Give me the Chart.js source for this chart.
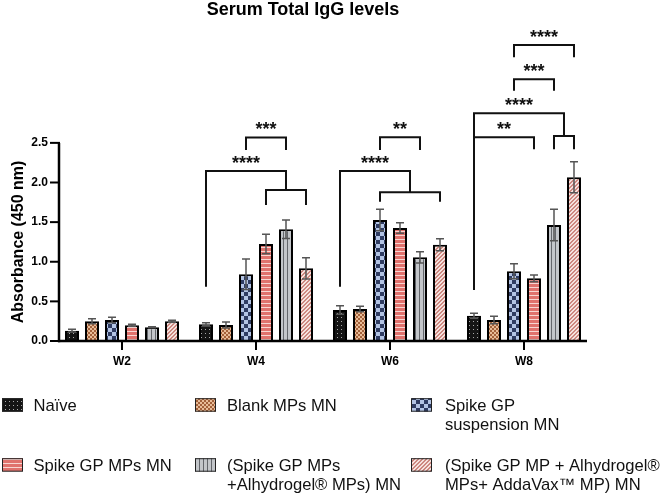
<!DOCTYPE html>
<html><head><meta charset="utf-8">
<script src="https://cdn.jsdelivr.net/npm/chart.js@4.4.0/dist/chart.umd.min.js"></script>
<style>html,body{margin:0;padding:0;background:#fff}#wrap{width:661px;height:498px;position:relative}</style>
</head><body><div id="wrap"><canvas id="c" width="661" height="498"></canvas></div>
<script>
const categories = ['W2', 'W4', 'W6', 'W8'];
const chartTitle = 'Serum Total IgG levels';
const yTitle = 'Absorbance (450 nm)';
const yTicks = [0, 0.5, 1.0, 1.5, 2.0, 2.5];
const seriesNames = ['Naïve', 'Blank MPs MN', 'Spike GP suspension MN', 'Spike GP MPs MN',
  '(Spike GP MPs +Alhydrogel® MPs) MN', '(Spike GP MP + Alhydrogel® MPs+ AddaVax™ MP) MN'];
const legendLines = [['Naïve'], ['Blank MPs MN'], ['Spike GP', 'suspension MN'],
  ['Spike GP MPs MN'], ['(Spike GP MPs', '+Alhydrogel® MPs) MN'], ['(Spike GP MP + Alhydrogel®', 'MPs+ AddaVax™ MP) MN']];

// means
const naive = [0.13, 0.211, 0.391, 0.319];
const blank = [0.249, 0.202, 0.404, 0.265];
const spikeSusp = [0.265, 0.842, 1.527, 0.88];
const spikeMPs = [0.198, 1.224, 1.426, 0.791];
const spikeAlhy = [0.173, 1.41, 1.056, 1.464];
const spikeAdda = [0.249, 0.917, 1.215, 2.066];
// error (SD/SEM)
const naiveErr = [0.018, 0.02, 0.054, 0.031];
const blankErr = [0.032, 0.038, 0.034, 0.047];
const spikeSuspErr = [0.034, 0.193, 0.135, 0.095];
const spikeMPsErr = [0.013, 0.122, 0.067, 0.042];
const spikeAlhyErr = [0.007, 0.117, 0.071, 0.198];
const spikeAddaErr = [0.012, 0.134, 0.076, 0.196];

// significance brackets: cat index, bar index range, top level, leg ends (data units)
const brackets = [
  {cat: 1, left: 2, right: 4, top: 2.568, leftEnd: 2.41, rightEnd: 2.41, label: '***'},
  {cat: 1, left: 0, right: 4, top: 2.145, leftEnd: 0.685, rightEnd: 1.905, label: '****'},
  {cat: 1, left: 3, right: 5, top: 1.905, leftEnd: 1.716, rightEnd: 1.716, label: ''},
  {cat: 2, left: 2, right: 4, top: 2.57, leftEnd: 2.41, rightEnd: 2.41, label: '**'},
  {cat: 2, left: 0, right: 3.5, top: 2.145, leftEnd: 0.685, rightEnd: 1.876, label: '****'},
  {cat: 2, left: 2, right: 5, top: 1.876, leftEnd: 1.758, rightEnd: 1.758, label: ''},
  {cat: 3, left: 2, right: 5, top: 3.735, leftEnd: 3.58, rightEnd: 3.58, label: '****'},
  {cat: 3, left: 2, right: 4, top: 3.302, leftEnd: 3.158, rightEnd: 3.158, label: '***'},
  {cat: 3, left: 0, right: 4.5, top: 2.873, leftEnd: 0.644, rightEnd: 2.587, label: '****'},
  {cat: 3, left: 4, right: 5, top: 2.587, leftEnd: 2.419, rightEnd: 2.419, label: ''},
  {cat: 3, left: 0, right: 3, top: 2.57, leftEnd: 0.644, rightEnd: 2.419, label: '**'}
];

const FONT = "'Liberation Sans', Arial, Helvetica, sans-serif";
Chart.defaults.font.family = FONT;

const canvas = document.getElementById('c');
const mainCtx = canvas.getContext('2d');
function makePattern(w, h, fn) {
  const c = document.createElement('canvas'); c.width = w; c.height = h;
  const g = c.getContext('2d'); fn(g, w, h);
  return mainCtx.createPattern(c, 'repeat');
}
const patterns = [
  makePattern(4, 4, (g) => { g.fillStyle = '#151515'; g.fillRect(0, 0, 4, 4); g.fillStyle = '#a8a8a8'; g.fillRect(1, 1, 1, 1); }),
  makePattern(4, 4, (g) => { g.fillStyle = '#e8bc98'; g.fillRect(0, 0, 4, 4); g.fillStyle = '#a3613a'; g.fillRect(0, 0, 2, 2); g.fillRect(2, 2, 2, 2); }),
  makePattern(8, 8, (g) => { g.fillStyle = '#b3c4e4'; g.fillRect(0, 0, 8, 8); g.fillStyle = '#2f3c62'; g.fillRect(0, 0, 4, 4); g.fillRect(4, 4, 4, 4); }),
  makePattern(1, 4, (g) => { g.fillStyle = '#e0726d'; g.fillRect(0, 0, 1, 4); g.fillStyle = '#f8d6d2'; g.fillRect(0, 3, 1, 1); }),
  makePattern(4, 1, (g) => { g.fillStyle = '#c3c6ca'; g.fillRect(0, 0, 4, 1); g.fillStyle = '#63666b'; g.fillRect(3, 0, 1, 1); }),
  makePattern(4, 4, (g) => { g.fillStyle = '#f6e2de'; g.fillRect(0, 0, 4, 4); g.fillStyle = '#cd8880';
    for (let x = 0; x < 4; x++) for (let y = 0; y < 4; y++) if ((x + y) % 4 < 2) g.fillRect(x, y, 1, 1); })
];

const seriesValues = [naive, blank, spikeSusp, spikeMPs, spikeAlhy, spikeAdda];
const seriesErrors = [naiveErr, blankErr, spikeSuspErr, spikeMPsErr, spikeAlhyErr, spikeAddaErr];

const decorPlugin = {
  id: 'decor',
  afterDatasetsDraw(chart) {
    const ctx = chart.ctx, y = chart.scales.y;
    ctx.save();
    ctx.strokeStyle = '#555'; ctx.lineWidth = 1.5;
    seriesValues.forEach((vals, i) => {
      const meta = chart.getDatasetMeta(i);
      meta.data.forEach((bar, j) => {
        const v = vals[j], e = seriesErrors[i][j], x = bar.x;
        const yt = y.getPixelForValue(v + e), yb = y.getPixelForValue(Math.max(0, v - e)), yv = y.getPixelForValue(v);
        ctx.beginPath();
        ctx.moveTo(x, yv); ctx.lineTo(x, yt);
        ctx.moveTo(x - 4, yt); ctx.lineTo(x + 4, yt);
        ctx.moveTo(x, yv); ctx.lineTo(x, yb);
        ctx.moveTo(x - 4, yb); ctx.lineTo(x + 4, yb);
        ctx.stroke();
      });
    });
    ctx.restore();
  },
  afterDraw(chart) {
    const ctx = chart.ctx, y = chart.scales.y, xs = chart.scales.x, ca = chart.chartArea;
    ctx.save();
    // axes
    const ax = ca.left + 4, y0 = y.getPixelForValue(0), yTop = y.getPixelForValue(yTicks[yTicks.length - 1]);
    ctx.strokeStyle = '#000'; ctx.lineWidth = 2.5; ctx.lineCap = 'butt';
    ctx.beginPath(); ctx.moveTo(ax, y0 + 1.2); ctx.lineTo(ax, yTop); ctx.stroke();
    ctx.lineWidth = 2;
    yTicks.forEach(v => { const p = y.getPixelForValue(v); ctx.beginPath(); ctx.moveTo(ax - 9, p); ctx.lineTo(ax + 1, p); ctx.stroke(); });
    ctx.lineWidth = 2.5;
    ctx.beginPath(); ctx.moveTo(ax - 1, y0); ctx.lineTo(ca.right - 4, y0); ctx.stroke();
    ctx.lineWidth = 2;
    categories.forEach((c, i) => { const p = xs.getPixelForValue(i); ctx.beginPath(); ctx.moveTo(p, y0); ctx.lineTo(p, y0 + 9); ctx.stroke(); });

    // brackets
    const barX = (cat, idx) => {
      const lo = Math.floor(idx), hi = Math.ceil(idx);
      const a = chart.getDatasetMeta(lo).data[cat].x, b = chart.getDatasetMeta(hi).data[cat].x;
      return a + (b - a) * (idx - lo);
    };
    ctx.lineWidth = 2; ctx.lineJoin = 'miter'; ctx.strokeStyle = '#111';
    brackets.forEach(b => {
      const xl = barX(b.cat, b.left), xr = barX(b.cat, b.right), yt = y.getPixelForValue(b.top);
      ctx.beginPath();
      ctx.moveTo(xl, y.getPixelForValue(b.leftEnd)); ctx.lineTo(xl, yt); ctx.lineTo(xr, yt); ctx.lineTo(xr, y.getPixelForValue(b.rightEnd));
      ctx.stroke();
      if (b.label) {
        ctx.fillStyle = '#111'; ctx.font = 'bold 18px ' + FONT; ctx.textAlign = 'center'; ctx.textBaseline = 'alphabetic';
        ctx.fillText(b.label, (xl + xr) / 2, yt - 2);
      }
    });

    // title
    ctx.fillStyle = '#000'; ctx.font = 'bold 18px ' + FONT; ctx.textAlign = 'center'; ctx.textBaseline = 'alphabetic';
    ctx.fillText(chartTitle, 303, 15);
    // y title
    ctx.save();
    ctx.translate(19, (y0 + yTop) / 2); ctx.rotate(-Math.PI / 2);
    ctx.font = 'bold 16px ' + FONT; ctx.textAlign = 'center'; ctx.textBaseline = 'middle';
    ctx.fillText(yTitle, 0, 0);
    ctx.restore();

    // legend
    const colX = [2, 195, 411], textX = [33.5, 227, 445], rowY = [410.7, 470.7];
    ctx.font = '16.6px ' + FONT; ctx.textAlign = 'left'; ctx.textBaseline = 'alphabetic';
    legendLines.forEach((lines, i) => {
      const col = i % 3, row = Math.floor(i / 3);
      const bx = colX[col], by = rowY[row] - 12.5;
      ctx.fillStyle = patterns[i]; ctx.fillRect(bx, by, 21, 13.5);
      ctx.strokeStyle = '#222'; ctx.lineWidth = 1; ctx.strokeRect(bx + 0.5, by + 0.5, 20, 12.5);
      ctx.fillStyle = '#111';
      lines.forEach((t, k) => ctx.fillText(t, textX[col], rowY[row] + k * 19.5));
    });
    ctx.restore();
  }
};

new Chart(canvas, {
  type: 'bar',
  data: {
    labels: categories,
    datasets: seriesValues.map((vals, i) => ({
      label: seriesNames[i], data: vals, backgroundColor: patterns[i],
      borderColor: '#000', borderWidth: 2,
      categoryPercentage: 0.8955, barPercentage: 0.7
    }))
  },
  options: {
    responsive: false, animation: false, devicePixelRatio: 1,
    layout: {padding: {left: 0, right: 70, top: 24, bottom: 117}},
    plugins: {legend: {display: false}, title: {display: false}, tooltip: {enabled: false}},
    scales: {
      x: {
        grid: {display: false, drawTicks: false, tickLength: 0}, border: {display: false},
        ticks: {color: '#000', font: {weight: 'bold', size: 12}, padding: 13},
        afterFit: s => { s.height = 40; }
      },
      y: {
        min: 0, max: 4.0,
        grid: {display: false, drawTicks: false, tickLength: 0}, border: {display: false},
        afterBuildTicks: s => { s.ticks = yTicks.map(v => ({value: v})); },
        ticks: {color: '#000', font: {weight: 'bold', size: 12}, padding: 7, callback: v => Number(v).toFixed(1)},
        afterFit: s => { s.width = 55; }
      }
    }
  },
  plugins: [decorPlugin]
});
</script>
</body></html>
